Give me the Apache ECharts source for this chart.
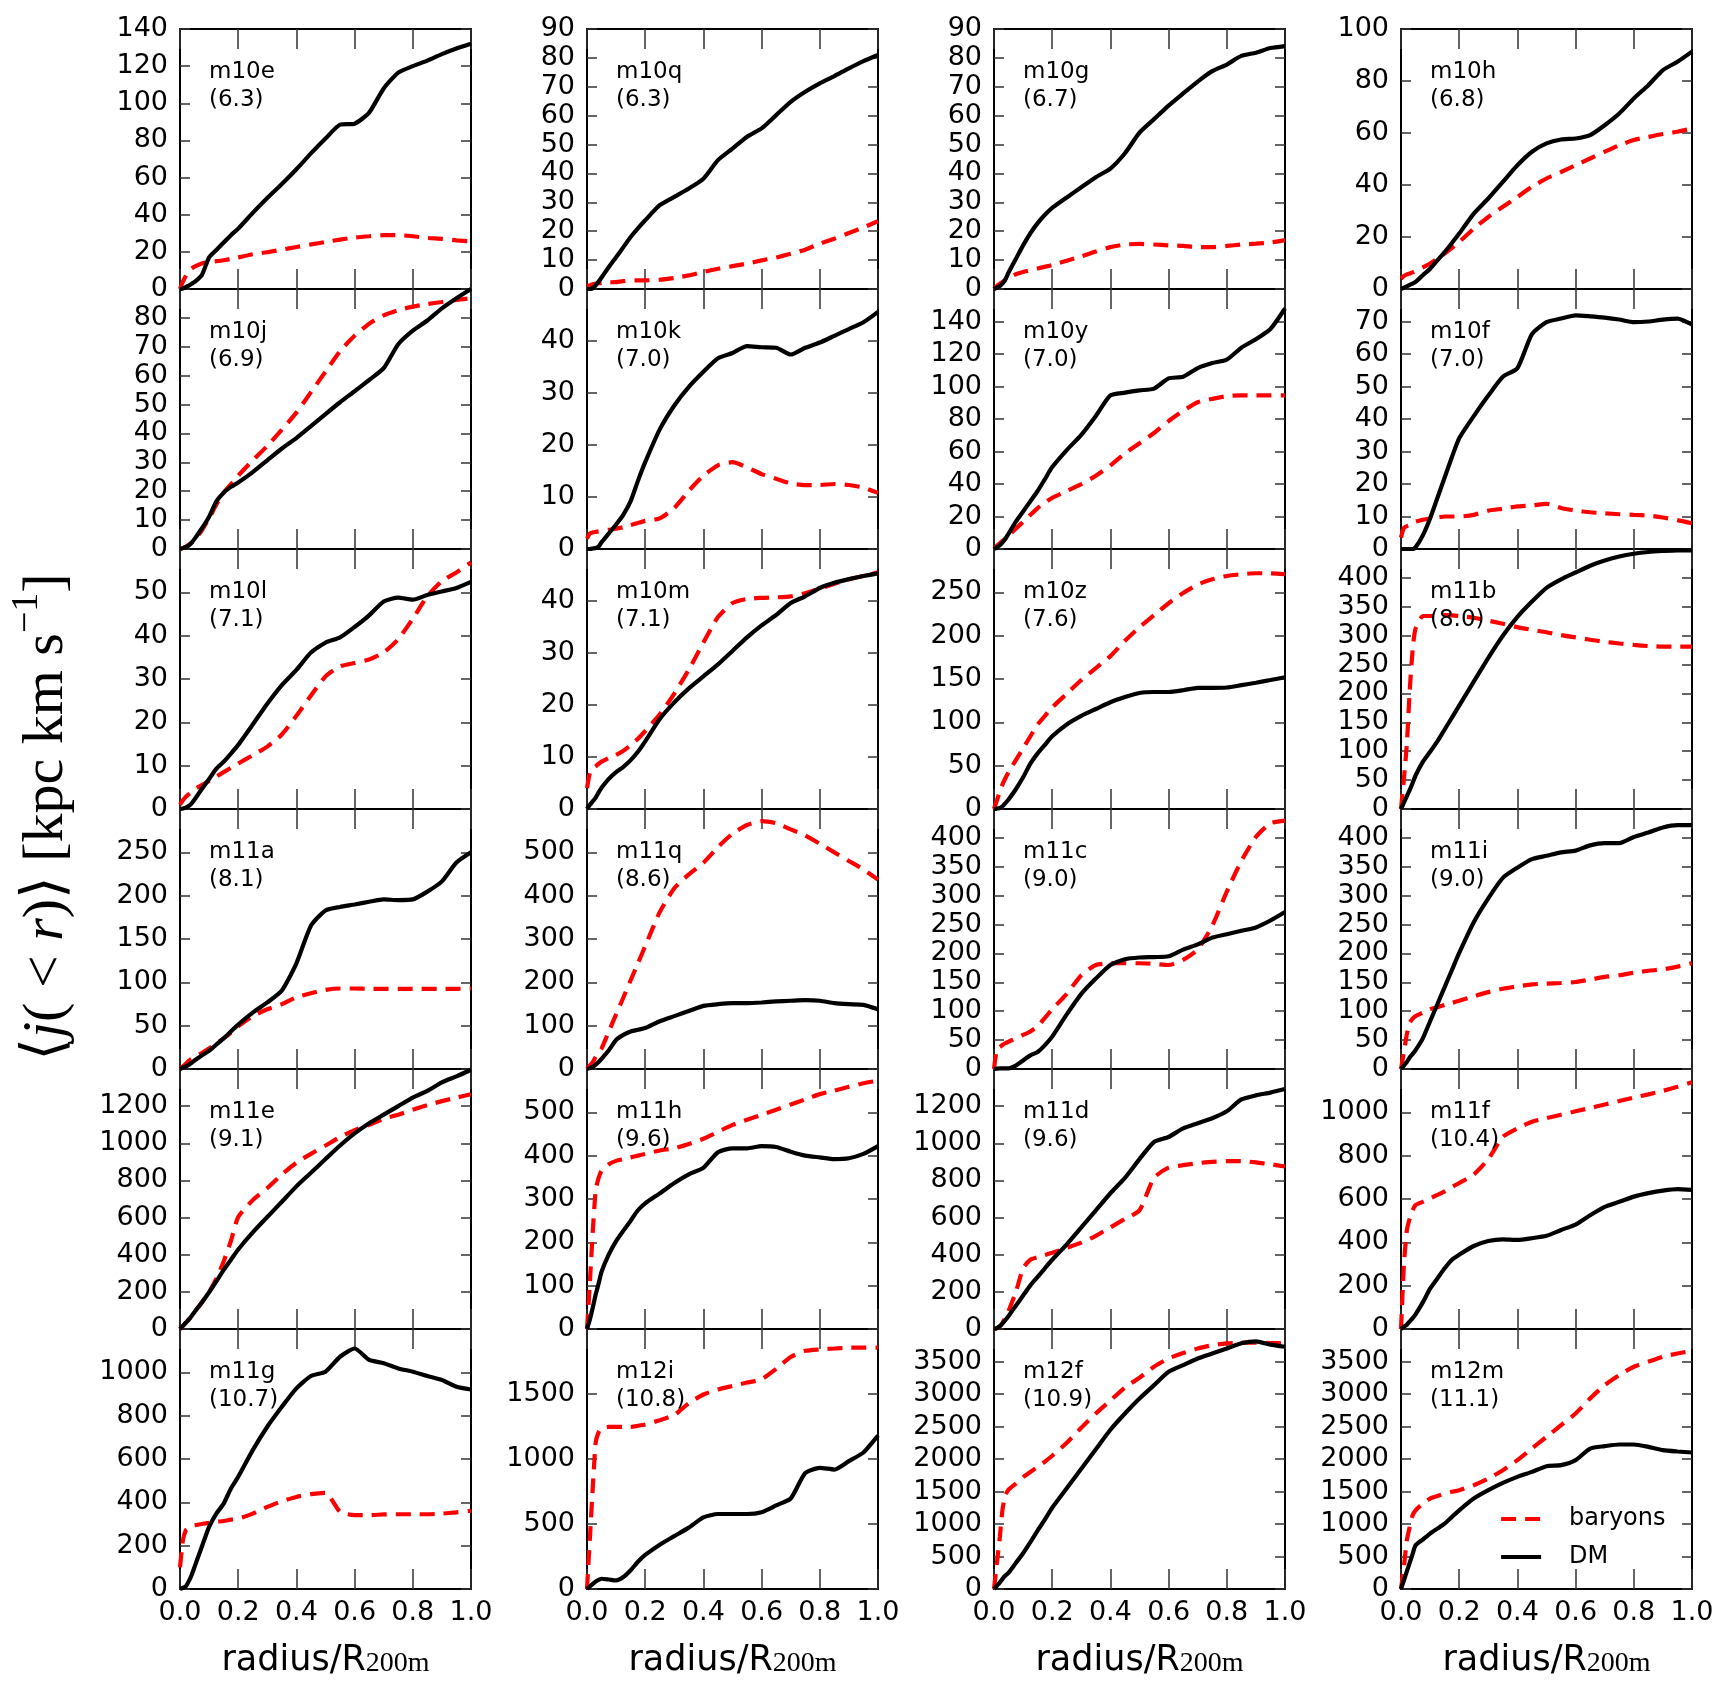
<!DOCTYPE html>
<html><head><meta charset="utf-8">
<script src="https://cdn.jsdelivr.net/npm/echarts@6/dist/echarts.min.js"></script>
<style>html,body{margin:0;padding:0;background:#fff}#c{width:1731px;height:1693px}</style>
</head><body><div id="c"></div><script>
// radius / R200m sample points shared by all curves
const R = [0,0.01,0.02,0.03,0.04,0.05,0.075,0.1,0.125,0.15,0.175,0.2,0.25,0.3,0.35,0.4,0.45,0.5,0.55,0.6,0.65,0.7,0.75,0.8,0.85,0.9,0.95,1.0];
const haloNames = ['m10e','m10q','m10g','m10h','m10j','m10k','m10y','m10f','m10l','m10m','m10z','m11b','m11a','m11q','m11c','m11i','m11e','m11h','m11d','m11f','m11g','m12i','m12f','m12m'];
const haloMass  = ['6.3','6.3','6.7','6.8','6.9','7.0','7.0','7.0','7.1','7.1','7.6','8.0','8.1','8.6','9.0','9.0','9.1','9.6','9.6','10.4','10.7','10.8','10.9','11.1'];
const yMax  = [140,90,90,100, 90,50,160,80, 60,50,300,450, 300,600,450,450, 1400,600,1400,1200, 1200,2000,4000,4000];
const yStep = [20,10,10,20, 10,10,20,10, 10,10,50,50, 50,100,50,50, 200,100,200,200, 200,500,500,500];
const xTickStep = 0.2;

const m10e_DM = [0,0.3,1,1.8,2.8,3.8,7.5,17,21,25,29,32.5,41,49,56.5,64.5,73,81,88.5,89,95,108,116.5,120,123,126.5,129.5,132];
const m10e_B  = [0,4,7,9.5,11,12,13.7,14.6,15,15.5,16.2,17,18.7,19.8,21.2,22.6,24,25.3,26.6,27.7,28.4,29,29,28.4,27.5,27,26.2,25.7];
const m10q_DM = [0,0,0.3,1.3,2.6,4,7.6,11,14.5,18,21,23.8,29,31.9,34.8,38.2,44.6,48.6,52.7,55.6,60.2,64.8,68.3,71.2,73.7,76.4,78.9,81];
const m10q_B  = [1,1.3,1.6,1.8,2,2.1,2.3,2.4,2.7,3,3,3,3.2,3.8,4.7,5.9,7,7.9,8.8,9.9,10.9,12.2,13.6,15.7,17.4,19.4,21.3,23.5];
const m10g_DM = [0,0.5,1,2,3.5,5.7,10.4,15.1,19.3,22.8,25.7,28.1,31.7,35.2,38.7,41.7,47,54.1,58.8,63.5,67.7,71.8,75.4,77.7,80.7,81.8,83.4,84.1];
const m10g_B  = [0,1,1.8,2.5,3.2,3.9,5.1,5.9,6.5,7.1,7.7,8.3,9.8,11.3,13,14.5,15.4,15.6,15.4,15.1,14.9,14.5,14.5,14.9,15.4,15.7,16.1,16.9];
const m10h_DM = [0,0.5,1,1.6,2.1,2.7,5.3,7.8,11,14.2,17.7,21.3,29,34.8,41.2,47.6,52.8,56,57.5,57.9,59.2,63,67.5,73.3,78.4,84.2,87.4,91.3];
const m10h_B  = [4,5,5.6,6,6.4,6.9,8.3,9.8,11.6,13.6,15.8,18.1,23.2,27.7,31.6,35.4,39.3,42.5,45,47.6,50.2,52.8,55.3,57.3,58.5,59.6,60.5,61.7];
const m10j_DM = [0,0.3,0.7,1.2,2.2,3.5,7.1,11.2,16.5,19.5,21.5,23,26.6,30.7,34.8,38.4,42.5,46.7,50.8,54.6,58.5,62.6,70.9,75.6,79.1,83.3,86.8,90];
const m10j_B  = [0,0.3,0.8,1.5,2.2,3,6.5,10.6,15.4,19.5,22.4,25.4,30.7,35.7,41.3,47.2,54.3,61.4,68.5,73.8,78,80.9,82.7,83.9,84.8,85.5,86.2,86.8];
const m10k_DM = [0,0,0.1,0.2,0.5,1.3,3,4.7,6.6,9.2,13.1,16.7,23,27.6,31.2,34.1,36.7,37.7,39,38.8,38.7,37.4,38.7,39.7,41,42.3,43.6,45.6];
const m10k_B  = [2,3,3.2,3.3,3.4,3.5,3.7,3.9,4.2,4.6,5,5.4,5.9,7.9,11.2,14.1,16.1,16.7,15.7,14.4,13.5,12.6,12.3,12.3,12.5,12.3,11.8,10.8];
const m10y_DM = [0,1,2.3,4.2,6.5,9.4,16.8,23.1,29.4,35.7,43,50.4,60.9,70.3,81.9,94.5,96.2,97.6,98.7,105,106,111.3,114.4,116.5,123.9,129.1,135.4,148];
const m10y_B  = [0,2,3.5,5,6.7,8.4,12.5,16.8,21,25.2,28.5,31.5,35.7,39.9,45.1,51.4,58.8,65.1,71.4,78.7,85,90.3,92.4,94.1,94.5,94.5,94.5,94.5];
const m10f_DM = [0,0,0,0,0,0.5,4.2,9.4,15.7,22,28.3,34.1,40.9,47.2,53,55.6,66.1,69.8,70.9,71.9,71.6,71.2,70.6,69.8,70,70.6,70.9,69.1];
const m10f_B  = [3.5,6.5,7,7.3,7.8,8.4,9,9.4,9.7,10,10,10,10.5,11.8,12.4,13.1,13.4,13.9,12.6,11.8,11.3,11,10.7,10.5,10.3,9.7,8.9,7.9];
const m10l_DM = [0,0.1,0.3,0.7,1.3,2.2,4.6,6.9,9.3,10.9,12.8,14.8,19.5,24.3,28.6,32.1,36.1,38.4,39.6,42,44.7,47.9,48.8,48.3,49.4,50.2,51,52.4];
const m10l_B  = [1,2,2.8,3.4,4,4.6,5.5,6.5,7.5,8.5,9.5,10.5,12.4,14.4,17.2,21.5,26.2,30.6,32.9,33.7,34.5,36.1,39.2,43.9,49.1,52.6,54.6,56.9];
const m10m_DM = [0,0.8,1.5,2.2,3.2,4.1,5.8,7.1,8.1,9.4,11,13,17.3,20.5,23.2,25.5,27.8,30.4,33,35.3,37.3,39.6,40.9,42.5,43.5,44.2,44.8,45.3];
const m10m_B  = [4,7,7.8,8.2,8.7,9.1,9.8,10.4,11.2,12.3,13.5,15,18.2,22.2,26.8,32,36.9,39.6,40.4,40.6,40.7,40.9,41.5,42.4,43.3,44.2,44.8,45.5];
const m10z_DM = [0,0.5,1.2,3.5,7,11,22.8,36.6,52.4,64.2,74,83.9,97.6,107.5,115.4,123.2,129.1,133.9,135,135,137,139.8,139.8,140.2,142.9,145.7,148.8,152];
const m10z_B  = [0,10,20,29,36,42.5,56.3,70,83.9,97.6,107.5,117.3,133,148.8,162.6,176.4,194.1,209.8,223.6,237.4,249.2,259,265,268.9,270.9,272,272,270.9];
const m11b_DM = [0,11,22,33,45,58,81.5,99,117,137.6,158.3,179,220.3,261.7,300,332.5,359,382.7,397.5,409.3,421.1,430,437,441.8,444.8,446.5,447.7,447.7];
const m11b_B  = [0,52,111,205,276,312,334,334,335,335.5,335,334,331,326,320.7,314.8,310,306,301,297,293,289.4,286.5,284,282,281,281,281];
const m11a_DM = [0,1.5,3,4.8,7,9.8,15.7,20.9,28.3,35.4,43.3,51.2,65,76.8,90.6,122,165.4,183,187,189.8,193,195.7,194.9,195.7,204.7,216.5,238.2,250];
const m11a_B  = [0,3,6,9.5,11.8,13.8,18.5,23.6,29.5,35.4,42,49.2,61,68.9,74.8,82.7,87.4,91.3,92.9,92.9,92.5,92.5,92.5,92.5,92.5,92.5,92.5,92.9];
const m11q_DM = [0,2,5,10,16,23.6,43.3,67,78.7,86.6,90.6,94.5,110.2,122,133.9,145.7,149.6,152,152,153.5,155.9,157.5,159,157.5,152,149.6,148,137.8];
const m11q_B  = [0,8,16,28,37,47,86.6,126,165,204.7,244,283.5,362,417,449,476,512,543,563,572,567,553,539,520,500,480,460.6,437];
const m11c_DM = [0,0.5,1,1.2,1.2,1.2,5.9,14.8,23.6,29.5,41.3,56,94.5,130,156.5,180,190,193,193.7,195,206.7,215.6,227.4,233.3,239.2,245,257,271.7];
const m11c_B  = [0,35,38,42,45,47.3,53,59,65,73.8,88.6,103.4,130,162.4,180,183,183,183,182,180,189,206.7,248,307,360,401.6,425.3,430];
const m11i_DM = [0,6,12,20,26,32.5,53,82.7,112,141.8,171.3,200.8,254,295.3,330.8,348.5,363.3,369,375,378,387,391,391,401.6,409.3,418,422,422];
const m11i_B  = [0,29.5,60,80,87,91.5,97.5,103.4,107,111,114.5,118,125.8,133,138.8,143,146.5,147.7,148.8,150.6,154.8,159.5,162.4,166.6,170,172.5,177.2,183];
const m11e_DM = [0,17,34,50,70,92,143,198,257,318,373,428,520,603,685,768,841,915,988,1053,1108,1154,1200,1246,1282,1328,1360,1396];
const m11e_B  = [0,17,34,50,70,92,143,198,272,364,474,603,694,759,832,896,943,988,1034,1071,1099,1132,1154,1181,1205,1227,1246,1264];
const m11h_DM = [0,22,50,80,105,132,172,203,227,250,274,290,313,337,357,372,408,417,417,422,420,409,400,396,392,394,404,422];
const m11h_B  = [0,109,227,321,349,365,380,388,392,396,400,404,412,417,427,439,455,471,483,494,506,518,530,542,550,559,567,573];
const m11d_DM = [0,5,15,32,50,70,125,180,235,281,327,373,456,547,639,731,814,915,1007,1034,1080,1108,1135,1172,1236,1258,1273,1292];
const m11d_B  = [0,5,15,35,65,97,198,327,373,386,398,410,437,465,502,547,593,639,814,869,882,893,900,904,904,897,887,875];
const m11f_DM = [0,10,20,35,50,68,123,186,233,280,320,343,383,406,414,411,419,430,457,482,525,564,587,611,627,639,646,642];
const m11f_B  = [0,296,454,510,548,572,587,603,619,635,655,674,713,784,887,926,957,973,989,1005,1020,1036,1052,1068,1083,1099,1118,1139];
const m11g_DM = [0,5,12,35,65,102,195,287,348,394,464,518,641,749,841,926,983,1003,1072,1110,1057,1042,1018,1003,983,965,934,921];
const m11g_B  = [100,225,271,282,290,294,300,305,310,314,320,325,348,379,405,425,438,444,356,341,341,344,345,345,345,348,354,361];
const m12i_DM = [0,20,40,58,70,79,73,66,92,144,210,262,341,407,472,551,577,577,577,591,643,696,892,932,919,984,1050,1181];
const m12i_B  = [0,394,787,1129,1207,1239,1247,1247,1247,1247,1255,1265,1299,1339,1430,1496,1535,1562,1588,1614,1693,1785,1832,1843,1850,1856,1856,1856];
const m12f_DM = [0,50,100,160,210,250,400,550,720,900,1070,1250,1550,1850,2150,2450,2700,2930,3137,3342,3445,3547,3624,3701,3780,3810,3760,3727];
const m12f_B  = [0,400,800,1250,1450,1530,1620,1720,1800,1880,1960,2050,2250,2480,2700,2900,3100,3250,3420,3547,3630,3700,3750,3778,3790,3790,3785,3778];
const m12m_DM = [0,135,270,405,540,672,760,852,929,1006,1109,1211,1391,1520,1632,1725,1802,1889,1905,1982,2161,2197,2223,2223,2187,2136,2115,2100];
const m12m_B  = [0,339,750,955,1134,1211,1314,1391,1430,1468,1495,1520,1597,1699,1828,1982,2161,2341,2520,2700,2931,3137,3291,3419,3497,3573,3624,3665];

const DM = [m10e_DM,m10q_DM,m10g_DM,m10h_DM,m10j_DM,m10k_DM,m10y_DM,m10f_DM,m10l_DM,m10m_DM,m10z_DM,m11b_DM,m11a_DM,m11q_DM,m11c_DM,m11i_DM,m11e_DM,m11h_DM,m11d_DM,m11f_DM,m11g_DM,m12i_DM,m12f_DM,m12m_DM];
const BAR = [m10e_B,m10q_B,m10g_B,m10h_B,m10j_B,m10k_B,m10y_B,m10f_B,m10l_B,m10m_B,m10z_B,m11b_B,m11a_B,m11q_B,m11c_B,m11i_B,m11e_B,m11h_B,m11d_B,m11f_B,m11g_B,m12i_B,m12f_B,m12m_B];

const L0 = 180, T0 = 29, W = 291, H = 260, DX = 407;
const SANS = '"DejaVu Sans", sans-serif';
const SERIF = '"Liberation Serif", "DejaVu Serif", serif';
const LW = 4.2;
const grids = [], xAxes = [], yAxes = [], series = [], graphics = [];
const tickStyle = {color: '#333', width: 1.5};
const lineAx = {show: true, onZero: false, lineStyle: {color: '#000', width: 2}};

for (let i = 0; i < 24; i++) {
  const r = Math.floor(i / 4), c = i % 4;
  const left = L0 + DX * c, top = T0 + H * r;
  grids.push({left: left, top: top, width: W, height: H, containLabel: false});
  const bottomRow = (r === 5);
  xAxes.push({
    type: 'value', gridIndex: i, position: 'bottom', min: 0, max: 1, interval: xTickStep,
    axisLine: lineAx, splitLine: {show: false},
    axisTick: {show: true, inside: true, length: 20, lineStyle: tickStyle},
    axisLabel: {show: bottomRow, margin: 10, fontSize: 27, color: '#000', fontFamily: SANS,
      showMinLabel: true, showMaxLabel: true, formatter: v => v.toFixed(1)},
    name: bottomRow ? '{a|radius/R}{b|200m}' : '',
    nameLocation: 'middle', nameGap: 49,
    nameTextStyle: {rich: {
      a: {fontSize: 35, fontFamily: SANS, color: '#000', lineHeight: 40, verticalAlign: 'bottom'},
      b: {fontSize: 28, fontFamily: SERIF, color: '#000', lineHeight: 20, verticalAlign: 'bottom'}
    }}
  });
  xAxes.push({
    type: 'value', gridIndex: i, position: 'top', min: 0, max: 1, interval: xTickStep,
    axisLine: lineAx, splitLine: {show: false},
    axisTick: {show: true, inside: true, length: 20, lineStyle: tickStyle},
    axisLabel: {show: false}
  });
  const ym = yMax[i];
  yAxes.push({
    type: 'value', gridIndex: i, position: 'left', min: 0, max: ym, interval: yStep[i],
    axisLine: lineAx, splitLine: {show: false},
    axisTick: {show: true, inside: true, length: 10, lineStyle: tickStyle},
    axisLabel: {show: true, margin: 12, fontSize: 27, color: '#000', fontFamily: SANS,
      showMinLabel: true, showMaxLabel: true,
      formatter: v => (r > 0 && v >= ym - 1e-9) ? '' : String(Math.round(v))}
  });
  yAxes.push({
    type: 'value', gridIndex: i, position: 'right', min: 0, max: ym, interval: yStep[i],
    axisLine: lineAx, splitLine: {show: false},
    axisTick: {show: true, inside: true, length: 10, lineStyle: tickStyle},
    axisLabel: {show: false}
  });
  series.push({
    name: 'baryons', type: 'line', xAxisIndex: 2 * i, yAxisIndex: 2 * i,
    data: R.map((x, k) => [x, BAR[i][k]]), symbol: 'none', smooth: 0.2, z: 3,
    lineStyle: {color: '#ff0000', width: LW, type: [15, 9]}, itemStyle: {color: '#ff0000'}
  });
  series.push({
    name: 'DM', type: 'line', xAxisIndex: 2 * i, yAxisIndex: 2 * i,
    data: R.map((x, k) => [x, DM[i][k]]), symbol: 'none', smooth: 0.2, z: 4,
    lineStyle: {color: '#000', width: LW, type: 'solid'}, itemStyle: {color: '#000'}
  });
  graphics.push({
    type: 'text', x: left + 29, y: top + 29, z: 100,
    style: {text: haloNames[i] + '\n(' + haloMass[i] + ')', font: '23px ' + SANS, fill: '#000',
      lineHeight: 28, textAlign: 'left', textVerticalAlign: 'top'}
  });
}

graphics.push({
  type: 'text', x: 42, y: 817, rotation: Math.PI / 2, z: 100,
  style: {
    text: '{n|\u27E8}{i|j}{n|( < }{i|r}{n|)\u27E9 [kpc km s}{s|\u22121}{n|]}',
    textAlign: 'center', textVerticalAlign: 'middle', align: 'center', verticalAlign: 'middle',
    rich: {
      n: {fontSize: 58, fontFamily: SERIF, fill: '#000', color: '#000', lineHeight: 68, verticalAlign: 'bottom'},
      i: {fontSize: 58, fontFamily: SERIF, fontStyle: 'italic', fill: '#000', color: '#000', lineHeight: 68, verticalAlign: 'bottom'},
      s: {fontSize: 38, fontFamily: SERIF, fill: '#000', color: '#000', lineHeight: 38, verticalAlign: 'top'}
    }
  }
});

const chart = echarts.init(document.getElementById('c'), null, {renderer: 'canvas'});
chart.setOption({
  animation: false,
  backgroundColor: '#fff',
  grid: grids, xAxis: xAxes, yAxis: yAxes, series: series,
  graphic: graphics,
  legend: {
    data: ['baryons', 'DM'], orient: 'vertical', left: 1494, top: 1502,
    itemWidth: 40, itemHeight: 14, itemGap: 14, selectedMode: false,
    itemStyle: {opacity: 0, color: 'rgba(0,0,0,0)', borderWidth: 0},
    lineStyle: {width: LW},
    textStyle: {fontSize: 24, fontFamily: SANS, color: '#000', padding: [0, 0, 0, 23]}
  }
});
</script></body></html>
